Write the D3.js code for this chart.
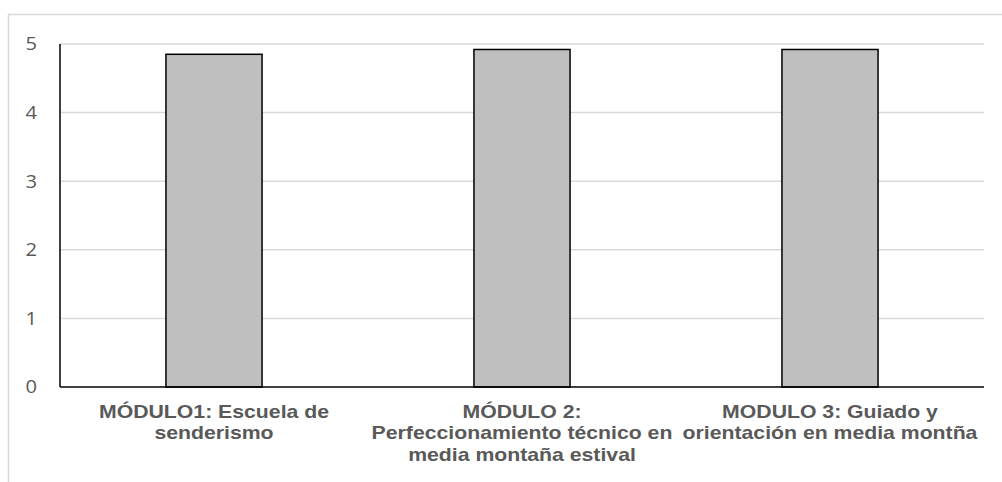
<!DOCTYPE html>
<html><head><meta charset="utf-8">
<script src="https://cdn.jsdelivr.net/npm/d3@7"></script>
<style>html,body{margin:0;padding:0;background:#fff;}svg{display:block;}</style>
</head><body>
<script>
const categories = ["MÓDULO1: Escuela de senderismo", "MÓDULO 2: Perfeccionamiento técnico en media montaña estival", "MODULO 3: Guiado y orientación en media montña"];
const categoryLines = [
  ["MÓDULO1: Escuela de", "senderismo"],
  ["MÓDULO 2:", "Perfeccionamiento técnico en", "media montaña estival"],
  ["MODULO 3: Guiado y", "orientación en media montña"]
];
const values = [4.85, 4.92, 4.92];
const yTicks = [0, 1, 2, 3, 4, 5];

const W = 1002, H = 482;
const m = {left: 60, right: 984, top: 44, bottom: 387};
const svg = d3.select("body").append("svg").attr("width", W).attr("height", H);

// outer chart frame
svg.append("line").attr("x1", 8.5).attr("x2", 8.5).attr("y1", 14).attr("y2", H).attr("stroke", "#d9d9d9").attr("stroke-width", 1.5);
svg.append("line").attr("x1", 8).attr("x2", W).attr("y1", 14.5).attr("y2", 14.5).attr("stroke", "#d9d9d9").attr("stroke-width", 1.5);

const x = d3.scaleBand().domain(categories).range([m.left, m.right]).paddingInner(0.688).paddingOuter(0.344);
const y = d3.scaleLinear().domain([0, 5]).range([m.bottom, m.top]);

// gridlines
svg.append("g").selectAll("line").data(yTicks.filter(d => d > 0)).join("line")
  .attr("x1", m.left).attr("x2", m.right)
  .attr("y1", d => y(d)).attr("y2", d => y(d))
  .attr("stroke", "#d9d9d9").attr("stroke-width", 1.5);

// y tick labels
svg.append("g").selectAll("text").data(yTicks).join("text")
  .attr("transform", d => `translate(37,${y(d)}) scale(1.12,1)`)
  .attr("dy", "0.35em")
  .attr("text-anchor", "end")
  .attr("font-family", "'Open Sans', 'Liberation Sans', sans-serif")
  .attr("font-size", 18).attr("fill", "#595959")
  .text(d => d);

// bars
svg.append("g").selectAll("rect").data(values).join("rect")
  .attr("x", (d, i) => x(categories[i]))
  .attr("width", x.bandwidth())
  .attr("y", d => y(d))
  .attr("height", d => y(0) - y(d))
  .attr("fill", "#bfbfbf").attr("stroke", "#000").attr("stroke-width", 1.5);

// axes lines
svg.append("line").attr("x1", m.left).attr("x2", m.left).attr("y1", y(5)).attr("y2", y(0)).attr("stroke", "#000").attr("stroke-width", 1.5);
svg.append("line").attr("x1", m.left).attr("x2", m.right).attr("y1", y(0)).attr("y2", y(0)).attr("stroke", "#000").attr("stroke-width", 1.5);

// category labels (slightly wide rendering as in the reference)
const lab = svg.append("g").selectAll("text").data(categories).join("text")
  .attr("transform", c => `translate(${x(c) + x.bandwidth() / 2},0) scale(1.18,1)`)
  .attr("text-anchor", "middle")
  .attr("font-family", "'Liberation Sans', Arial, sans-serif")
  .attr("font-weight", "bold").attr("font-size", 18).attr("fill", "#595959");
lab.each(function(c, i) {
  d3.select(this).selectAll("tspan").data(categoryLines[i]).join("tspan")
    .attr("x", 0).attr("y", (d, j) => 418 + j * 21.5)
    .text(d => d);
});
</script>
</body></html>
